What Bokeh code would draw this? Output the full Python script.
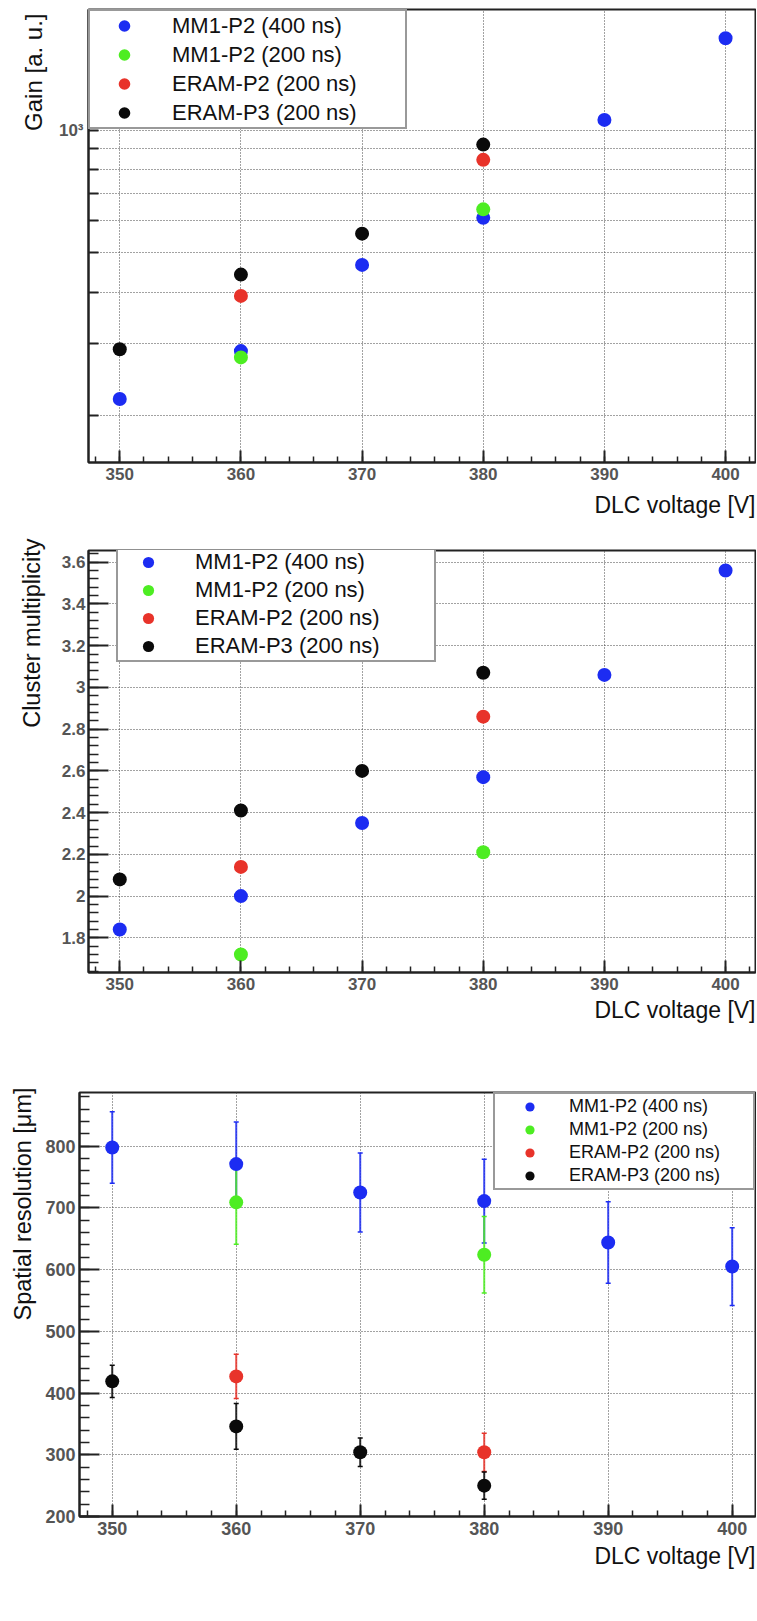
from bokeh.plotting import figure
from bokeh.layouts import column
from bokeh.models import (Range1d, FixedTicker, SingleIntervalTicker, CustomJSTickFormatter,
                          Title, Whisker, ColumnDataSource, TeeHead)
from bokeh.embed import file_html
from bokeh.resources import INLINE

# ---------------- data ----------------
series_names = ["MM1-P2 (400 ns)", "MM1-P2 (200 ns)", "ERAM-P2 (200 ns)", "ERAM-P3 (200 ns)"]
series_colors = ["#1c2cf2", "#4ded22", "#e8332a", "#0a0a0a"]

v_mm1_400 = [350, 360, 370, 380, 390, 400]
v_mm1_200 = [360, 380]
v_eram_p2 = [360, 380]
v_eram_p3 = [350, 360, 370, 380]

gain_mm1_400 = [219, 287, 467, 609, 1059, 1679]
gain_mm1_200 = [277, 639]
gain_eram_p2 = [392, 845]
gain_eram_p3 = [290, 442, 557, 921]

clu_mm1_400 = [1.84, 2.00, 2.35, 2.57, 3.06, 3.56]
clu_mm1_200 = [1.72, 2.21]
clu_eram_p2 = [2.14, 2.86]
clu_eram_p3 = [2.08, 2.41, 2.60, 3.07]

res_mm1_400 = [798, 771, 725, 711, 644, 605]
res_mm1_400_err = [58, 68, 64, 68, 66, 63]
res_mm1_200 = [709, 624]
res_mm1_200_err = [68, 62]
res_eram_p2 = [427, 304]
res_eram_p2_err = [36, 31]
res_eram_p3 = [419, 346, 304, 250]
res_eram_p3_err = [26, 37, 23, 22]

gain_ticks = [200, 300, 400, 500, 600, 700, 800, 900, 1000]
gain_tick_labels = {1000: "10³"}

x_title = "DLC voltage [V]"
y_titles = ["Gain [a. u.]", "Cluster multiplicity", "Spatial resolution [μm]"]

FONT = "Liberation Sans"
FRAME = "#222222"


def make_fig(height, btop, bbottom, bleft, xr, yr, y_type="linear", tick_font="17px"):
    p = figure(width=756, height=height, x_range=Range1d(*xr), y_range=Range1d(*yr),
               y_axis_type=y_type, output_backend="svg", toolbar_location=None,
               min_border_left=bleft, min_border_right=1, min_border_top=btop,
               min_border_bottom=bbottom, frame_align=False)
    p.outline_line_color = FRAME
    p.outline_line_width = 2
    p.background_fill_color = "white"
    p.border_fill_color = "white"
    for ax in (p.xaxis[0], p.yaxis[0]):
        ax.axis_line_color = FRAME
        ax.axis_line_width = 2
        ax.major_tick_line_color = FRAME
        ax.major_tick_line_width = 2
        ax.minor_tick_line_color = FRAME
        ax.minor_tick_line_width = 1.5
        ax.major_tick_out = 0
        ax.minor_tick_out = 0
        ax.major_label_text_font = FONT
        ax.major_label_text_font_size = tick_font
        ax.major_label_text_font_style = "bold"
        ax.major_label_text_color = "#555555"
    p.xaxis.ticker = SingleIntervalTicker(interval=10, num_minor_ticks=5)
    p.xaxis.major_tick_in = 12
    p.xaxis.minor_tick_in = 6
    p.xaxis.major_label_standoff = 5
    p.yaxis.major_label_standoff = 4
    for g in (p.xgrid[0], p.ygrid[0]):
        g.grid_line_color = "#444444"
        g.grid_line_width = 1
        g.grid_line_dash = "1 2"
    return p


def add_titles(p, ytext, yfont, yoff, ystand, xstand):
    p.add_layout(Title(text=x_title, align="right", text_font=FONT, text_font_size="23px",
                       text_font_style="normal", text_color="#111111", standoff=xstand), "below")
    p.add_layout(Title(text=ytext, align="right", text_font=FONT, text_font_size=yfont,
                       text_font_style="normal", text_color="#111111", offset=yoff,
                       standoff=ystand), "left")


def style_legend(p, loc, gw, gh, pad, standoff, lwidth, fsize):
    lg = p.legend[0]
    lg.location = loc
    lg.margin = 0
    lg.padding = pad
    lg.spacing = 0
    lg.glyph_width = gw
    lg.glyph_height = gh
    lg.label_standoff = standoff
    lg.label_width = lwidth
    lg.label_height = gh
    lg.label_text_font = FONT
    lg.label_text_font_size = fsize
    lg.label_text_color = "#111111"
    lg.border_line_color = "#333333"
    lg.border_line_width = 2
    lg.background_fill_color = "white"
    lg.background_fill_alpha = 1


# ---------------- panel 1 : gain ----------------
p1 = make_fig(528, 9, 66, 88, (347.42, 402.47), (153, 1975), y_type="log")
p1.yaxis.ticker = FixedTicker(ticks=gain_ticks, minor_ticks=[])
p1.yaxis.major_label_overrides = {t: gain_tick_labels.get(t, "") for t in gain_ticks}
p1.yaxis.major_tick_in = 10
p1.yaxis.major_label_standoff = 5
gain_sets = [(v_mm1_400, gain_mm1_400), (v_mm1_200, gain_mm1_200),
             (v_eram_p2, gain_eram_p2), (v_eram_p3, gain_eram_p3)]
for (xs, ys), name, col in zip(gain_sets, series_names, series_colors):
    p1.scatter(xs, ys, size=14, color=col, line_color=None, legend_label=name)
style_legend(p1, "top_left", 68, 29, 0, 14, 233, "22px")
add_titles(p1, y_titles[0], "24px", 4, 18, 14)

# ---------------- panel 2 : cluster multiplicity ----------------
p2 = make_fig(504, 22, 60, 88, (347.42, 402.47), (1.634, 3.656))
p2.yaxis.ticker = SingleIntervalTicker(interval=0.2, num_minor_ticks=5)
p2.yaxis.formatter = CustomJSTickFormatter(code="return Number(tick.toFixed(1)).toString();")
p2.yaxis.major_tick_in = 20
p2.yaxis.minor_tick_in = 10
p2.yaxis.major_label_standoff = 3
clu_sets = [(v_mm1_400, clu_mm1_400), (v_mm1_200, clu_mm1_200),
            (v_eram_p2, clu_eram_p2), (v_eram_p3, clu_eram_p3)]
for (xs, ys), name, col in zip(clu_sets, series_names, series_colors):
    p2.scatter(xs, ys, size=14, color=col, line_color=None, legend_label=name)
style_legend(p2, (28, 310), 60, 28, 0, 17, 239, "22px")
add_titles(p2, y_titles[1], "23.5px", -12, 28, 5)

# ---------------- panel 3 : spatial resolution ----------------
p3 = make_fig(574, 60, 90, 79, (347.36, 401.88), (200, 887), tick_font="18px")
p3.yaxis.ticker = SingleIntervalTicker(interval=100, num_minor_ticks=5)
p3.yaxis.major_tick_in = 20
p3.yaxis.minor_tick_in = 10
p3.yaxis.major_label_standoff = 4
res_sets = [(v_mm1_400, res_mm1_400, res_mm1_400_err), (v_mm1_200, res_mm1_200, res_mm1_200_err),
            (v_eram_p2, res_eram_p2, res_eram_p2_err), (v_eram_p3, res_eram_p3, res_eram_p3_err)]
for (xs, ys, es), name, col in zip(res_sets, series_names, series_colors):
    src = ColumnDataSource(dict(x=xs, y=ys,
                                upper=[y + e for y, e in zip(ys, es)],
                                lower=[y - e for y, e in zip(ys, es)]))
    w = Whisker(base="x", upper="upper", lower="lower", source=src,
                line_color=col, line_width=2, line_alpha=0.85,
                upper_head=TeeHead(size=5, line_color=col, line_width=1.5),
                lower_head=TeeHead(size=5, line_color=col, line_width=1.5))
    p3.add_layout(w)
    p3.scatter("x", "y", source=src, size=14, color=col, line_color=None, legend_label=name)
style_legend(p3, "top_right", 67, 23, 1, 6, 183, "18px")
add_titles(p3, y_titles[2], "23.5px", -5, 14, 6)

layout = column(p1, p2, p3)
open("out.html", "w").write(file_html(layout, INLINE))
